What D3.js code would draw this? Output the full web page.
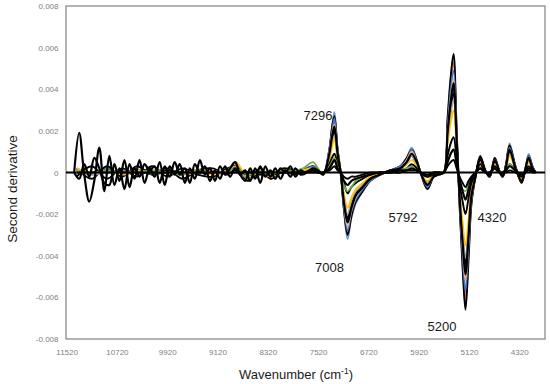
<!DOCTYPE html>
<html>
<head>
<meta charset="utf-8">
<script src="https://cdn.jsdelivr.net/npm/d3@7"></script>
<style>
  body { margin: 0; background: #fff; }
  text { font-family: "Liberation Sans", Arial, sans-serif; }
</style>
</head>
<body>
<div id="chart"></div>
<script>
// wavenumber grids (cm-1), descending
const wnCoarse = [11360, 11120, 10880, 10640, 10400, 10160, 9920, 9680, 9440, 9200,
  8960, 8830, 8640, 8440, 8270, 8080, 7900, 7760];
const wnFine = [11400, 11320, 11240, 11160, 11080, 11000, 10920, 10840, 10760, 10680,
  10600, 10520, 10440, 10360, 10280, 10200, 10120, 10040, 9960, 9880,
  9800, 9720, 9640, 9560, 9480, 9400, 9320, 9240, 9160, 9080,
  9000, 8920, 8840, 8760, 8680, 8600, 8520, 8440, 8360, 8280,
  8200, 8120, 8040, 7960, 7880, 7800, 7720];
const wnPeaks = [7600, 7520, 7440, 7340, 7300, 7260, 7210, 7160, 7110, 7050,
  6990, 6920, 6810, 6690, 6530, 6370, 6210, 6110, 6030, 5950,
  5890, 5780, 5680, 5600, 5520, 5460, 5410, 5365, 5315, 5270,
  5220, 5175, 5125, 5080, 5015, 4940, 4860, 4790, 4710, 4640,
  4585, 4530, 4474, 4380, 4283, 4220, 4170, 4110, 4060];

// second derivative values, in units of 1e-4
const UNIT = 1e-4;
const blueA = [1, -1, 2, -1, 1, 0, 1, -1, 1, 0, 1, 4, -4, 0, -3, 1, 0, 1,
  3, 1, -1, 12, 22, 29, 12, 0, -18, -32, -22, -15, -9, -4, -1, 1, 3, 7, 12, 6,
  0, -8, -2, -1, 0, 25, 45, 56, 20, -15, -45, -65, -40, -15, -2, 6, 1, -2, 7, 1,
  -2, 4, 14, 3, -5, 2, 9, 3, 0];
const orange = [1, 0, 1, -1, 1, -1, 1, 0, 1, -1, 1, 4, -3, 1, -3, 1, 0, 1,
  3, 1, -1, 11, 21, 27, 11, 0, -17, -30, -21, -14, -8, -4, -1, 1, 3, 7, 11, 6,
  0, -8, -2, -1, 0, 24, 42, 53, 19, -14, -42, -61, -38, -14, -2, 6, 1, -2, 7, 1,
  -2, 4, 13, 3, -5, 2, 8, 3, 0];
const blueB = [2, -1, 1, 0, 1, 0, 0, -1, 1, 0, 1, 5, -3, 0, -2, 1, 1, 1,
  3, 1, -1, 11, 19, 26, 11, 0, -16, -28, -19, -13, -8, -4, -1, 1, 3, 6, 11, 5,
  0, -7, -2, -1, 0, 22, 40, 49, 18, -13, -40, -57, -35, -13, -2, 5, 1, -2, 6, 1,
  -2, 4, 12, 3, -4, 2, 8, 3, 0];
const peach = [0, -1, 1, -1, 0, 1, 1, -1, 0, 1, 0, 4, -3, 0, -2, 0, 0, 1,
  2, 1, -1, 10, 18, 23, 10, 0, -14, -26, -18, -12, -7, -3, -1, 1, 2, 6, 10, 5,
  0, -6, -2, -1, 0, 20, 36, 45, 16, -12, -36, -52, -32, -12, -2, 5, 1, -2, 6, 1,
  -2, 3, 11, 2, -4, 2, 7, 2, 0];
const darkBlue = [1, 0, 1, 0, 1, -1, 0, 0, 1, 0, 1, 3, -2, 0, -2, 1, 0, 0,
  2, 1, -1, 9, 16, 21, 9, 0, -13, -23, -16, -11, -6, -3, -1, 1, 2, 5, 9, 4,
  0, -6, -1, -1, 0, 18, 32, 40, 14, -11, -32, -47, -29, -11, -1, 4, 1, -1, 5, 1,
  -1, 3, 10, 2, -4, 1, 6, 2, 0];
const grey = [1, -1, 0, 1, 0, 0, 1, -1, 0, 0, 1, 3, -3, 1, -2, 0, 1, 1,
  2, 1, -1, 8, 14, 18, 8, 0, -11, -20, -14, -9, -6, -3, -1, 1, 2, 4, 8, 4,
  0, -5, -1, -1, 0, 16, 28, 35, 13, -9, -28, -41, -25, -9, -1, 4, 1, -1, 4, 1,
  -1, 3, 9, 2, -3, 1, 6, 2, 0];
const yellow = [2, 0, 1, -1, 1, 0, 1, 0, 1, -1, 1, 5, -2, 0, -2, 1, 0, 1,
  2, 1, -1, 6, 12, 16, 6, 0, -10, -17, -12, -8, -5, -2, -1, 1, 2, 4, 6, 3,
  0, -4, -1, -1, 0, 14, 24, 30, 11, -8, -24, -35, -22, -8, -1, 3, 1, -1, 4, 1,
  -1, 2, 8, 2, -3, 1, 5, 2, 0];
const green = [0, 0, 1, 0, 0, 1, 0, -1, 1, 0, 0, 2, -1, 0, -1, 1, 1, 2,
  5, 2, -1, 3, 5, 7, 3, 0, -6, -9, -7, -4, -2, -1, 0, 0, 1, 2, 3, 1,
  0, -2, 0, 0, 0, 5, 9, 11, 4, -4, -8, -9, -5, -2, 0, 2, 0, 0, 2, 0,
  0, 1, 4, 1, -1, 0, 2, 1, 0];
const black1 = [2, -3, 3, -2, 3, -1, 2, -3, 1, 2, -1, 4, -4, 2, -3, 1, -1, 1,
  3, 1, -1, 11, 21, 27, 11, 0, -17, -30, -21, -14, -9, -4, -1, 1, 3, 7, 11, 6,
  0, -8, -2, -1, 0, 26, 46, 57, 20, -15, -46, -66, -41, -15, -2, 8, 1, -2, 7, 1,
  -2, 4, 13, 3, -5, 2, 8, 3, 0];
const black3 = [-2, 3, -3, 2, -2, 3, -2, 2, -1, -2, 2, 3, -2, -1, -2, 2, 1, -1,
  2, 1, -1, 8, 15, 20, 8, 0, -12, -22, -15, -10, -6, -3, -1, 1, 2, 5, 8, 4,
  0, -5, -1, -1, 0, 17, 31, 38, 14, -10, -31, -44, -27, -10, -1, 6, 1, -1, 5, 1,
  -1, 3, 10, 2, -3, 1, 6, 2, 0];
const black5 = [0, 0, 1, 0, 0, 0, 1, 0, 0, 0, 0, 1, -1, 0, -1, 0, 0, 0,
  1, 0, 0, 4, 7, 9, 4, 0, -5, -10, -7, -5, -3, -1, 0, 0, 1, 2, 4, 2,
  0, -2, -1, 0, 0, 8, 14, 17, 6, -5, -14, -20, -12, -5, -1, 4, 0, -1, 3, 0,
  -1, 1, 4, 1, -2, 1, 3, 1, 0];
const black6 = [0, 0, 0, 0, 0, 0, 0, 0, 0, 0, 0, 0, 0, 0, 0, 0, 0, 0,
  0, 0, 0, 1, 2, 3, 1, 0, -2, -3, -2, -2, -1, 0, 0, 0, 0, 1, 1, 1,
  0, -1, 0, 0, 0, 3, 5, 6, 2, -2, -5, -7, -4, -2, 0, 2, 0, 0, 2, 0,
  0, 0, 1, 0, -1, 0, 1, 0, 0];
// noisy spectra on the fine grid
const noisy1 = [0, 19, -1, -14, -4, 12, -9, 8, -6, 2, -8, 4, -3, 6, -5, 2, -2, 5, -6, 3,
  -1, 4, -5, 2, -3, 6, -1, 2, -4, 3, -1, 2, 5, -1, -4, 2, -3, 3, -2, 1,
  -3, 2, 0, 3, -2, 1, 0,
  2, 1, -1, 9, 17, 22, 9, 0, -14, -24, -17, -11, -7, -3, -1, 1, 2, 5, 9, 5,
  0, -6, -2, -1, 0, 19, 34, 43, 15, -11, -34, -49, -30, -11, -2, 7, 1, -2, 6, 1,
  -2, 3, 11, 2, -4, 2, 7, 2, 0];
const noisy2 = [0, -3, 4, -2, 7, 2, -5, -6, 4, -4, 6, -7, 2, -2, 4, 1, 3, -5, 3, -2,
  5, -1, 2, -5, 4, 0, 3, -4, 1, -3, 3, -2, 2, -1, 1, -4, 2, -5, 3, -2,
  2, -3, 1, -2, 2, -1, 0,
  1, 0, 0, 2, 4, 6, 2, 0, -4, -6, -4, -3, -2, -1, 0, 0, 1, 1, 2, 1,
  0, -2, 0, 0, 0, 5, 9, 11, 4, -3, -9, -13, -8, -3, 0, 2, 0, 0, 2, 0,
  0, 1, 3, 1, -1, 0, 2, 1, 0];

// drawing order: coloured and black spectra interleaved, as in the source
const bundleSeries = [blueA, orange, black1, blueB, peach, darkBlue, black3, grey, yellow, black5, green, black6];
const bundleStrokes = ['#5B9BD5', '#ED7D31', '#000000', '#4472C4', '#F4B183', '#264478', '#000000',
  '#A5A5A5', '#FFC000', '#000000', '#70AD47', '#000000'];
const noisySeries = [noisy2, noisy1];

const xTicks = [11520, 10720, 9920, 9120, 8320, 7520, 6720, 5920, 5120, 4320];
const yTicks = [-0.008, -0.006, -0.004, -0.002, 0, 0.002, 0.004, 0.006, 0.008];
const peakLabels = ['7296', '7008', '5792', '5200', '4320'];
const labelWn = [7520, 7337, 6168, 5548, 4752];
const labelVal = [0.0025, -0.0048, -0.0024, -0.0076, -0.0024];

const width = 550, height = 384;
const margin = { top: 6, right: 5, bottom: 45, left: 66 };
const plotW = width - margin.left - margin.right;
const plotH = height - margin.top - margin.bottom;

const svg = d3.select('#chart').append('svg')
  .attr('width', width)
  .attr('height', height);

const x = d3.scaleLinear().domain([11530, 3910]).range([0, plotW]);
const y = d3.scaleLinear().domain([-0.008, 0.008]).range([plotH, 0]);

const chart = svg.append('g')
  .attr('transform', 'translate(' + margin.left + ',' + margin.top + ')');

chart.append('clipPath').attr('id', 'clip')
  .append('rect').attr('width', plotW).attr('height', plotH);

// frame
chart.append('rect')
  .attr('width', plotW)
  .attr('height', plotH)
  .attr('fill', 'none')
  .attr('stroke', '#8a8a8a')
  .attr('stroke-width', 1.3);

// zero line
chart.append('line')
  .attr('x1', 0).attr('x2', plotW)
  .attr('y1', y(0)).attr('y2', y(0))
  .attr('stroke', '#000')
  .attr('stroke-width', 2);

const body = chart.append('g').attr('clip-path', 'url(#clip)');

const toPoints = (vals, grid) => vals.map((v, i) => ({ x: grid[i], y: v * UNIT }));
const plotLine = d3.line()
  .x(d => x(d.x))
  .y(d => y(d.y))
  .curve(d3.curveCatmullRom.alpha(0.5));

const wavenumbers = wnCoarse.concat(wnPeaks);
const wavenumbersFine = wnFine.concat(wnPeaks);

bundleSeries.forEach((s, i) => {
  body.append('path')
    .datum(toPoints(s, wavenumbers))
    .attr('fill', 'none')
    .attr('stroke', bundleStrokes[i])
    .attr('stroke-width', bundleStrokes[i] === '#000000' ? 1.9 : 1.7)
    .attr('d', plotLine);
});

noisySeries.forEach(s => {
  body.append('path')
    .datum(toPoints(s, wavenumbersFine))
    .attr('fill', 'none')
    .attr('stroke', '#000')
    .attr('stroke-width', 2.2)
    .attr('stroke-linejoin', 'round')
    .attr('d', plotLine);
});

// axes
const yAxis = d3.axisLeft(y)
  .tickValues(yTicks)
  .tickSize(0)
  .tickPadding(7.5)
  .tickFormat(d => (d === 0 ? '0' : d.toFixed(3)));
const yg = chart.append('g').call(yAxis);
yg.select('.domain').remove();
yg.selectAll('text').attr('fill', '#808080').style('font-size', '8px');

const xAxis = d3.axisBottom(x)
  .tickValues(xTicks)
  .tickSize(0)
  .tickPadding(10)
  .tickFormat(d => String(d));
const xg = chart.append('g').attr('transform', 'translate(0,' + plotH + ')').call(xAxis);
xg.select('.domain').remove();
xg.selectAll('text').attr('fill', '#808080').style('font-size', '8px');

// peak labels
chart.selectAll('.peak-label')
  .data(peakLabels)
  .enter()
  .append('text')
  .attr('class', 'peak-label')
  .attr('x', (d, i) => x(labelWn[i]))
  .attr('y', (d, i) => y(labelVal[i]))
  .attr('text-anchor', 'middle')
  .attr('fill', '#1a1a1a')
  .style('font-size', '13px')
  .text(d => d);

// axis titles
svg.append('text')
  .attr('transform', 'translate(16.5,189) rotate(-90)')
  .attr('text-anchor', 'middle')
  .attr('fill', '#1a1a1a')
  .style('font-size', '13.5px')
  .text('Second derivative');

const xTitle = svg.append('text')
  .attr('x', 296)
  .attr('y', 379)
  .attr('text-anchor', 'middle')
  .attr('fill', '#1a1a1a')
  .style('font-size', '13px');
xTitle.append('tspan').text('Wavenumber (cm');
xTitle.append('tspan').attr('dy', -5).style('font-size', '8.5px').text('-1');
xTitle.append('tspan').attr('dy', 5).text(')');
</script>
</body>
</html>
